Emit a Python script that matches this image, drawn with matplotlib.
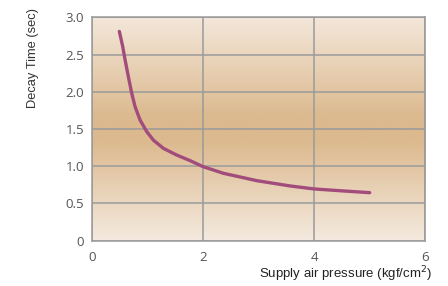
import numpy as np
import matplotlib
matplotlib.use("Agg")
import matplotlib.pyplot as plt
from matplotlib.colors import LinearSegmentedColormap

pressure = [0.497, 0.557, 0.60, 0.66, 0.72, 0.78, 0.87, 0.99, 1.11, 1.29, 1.53, 1.77,
            2.00, 2.37, 2.97, 3.57, 4.00, 4.53, 5.00]
decay = [2.81, 2.61, 2.43, 2.20, 1.98, 1.80, 1.62, 1.465, 1.35, 1.24, 1.15, 1.075,
         0.995, 0.905, 0.806, 0.735, 0.695, 0.668, 0.645]
xticks = [0, 2, 4, 6]
yticks = [0, 0.5, 1.0, 1.5, 2.0, 2.5, 3.0]
ytick_labels = ["0", "0.5", "1.0", "1.5", "2.0", "2.5", "3.0"]

fig = plt.figure(figsize=(4.48, 2.86), dpi=100)
W, H = 448, 286
ax = fig.add_axes([91.7 / W, 1 - 240.7 / H, (425.3 - 91.7) / W, (240.7 - 17.3) / H])

cmap = LinearSegmentedColormap.from_list(
    "bg", [(0.0, "#f4eadf"), (0.45, "#dcb98e"), (0.55, "#dcb98e"), (1.0, "#f3e7da")])
grad = np.linspace(0, 1, 256).reshape(-1, 1)
ax.imshow(grad, extent=[0, 6, 0, 3], aspect="auto", cmap=cmap, zorder=0, origin="lower")

ax.set_xlim(0, 6)
ax.set_ylim(0, 3)
ax.set_xticks(xticks)
ax.set_yticks(yticks)
ax.set_yticklabels(ytick_labels)
ax.grid(True, color="#9a9a9a", linewidth=1.1, zorder=1)
ax.set_axisbelow(False)
for s in ax.spines.values():
    s.set_color("#9a9a9a")
    s.set_linewidth(1.1)
ax.tick_params(length=0, colors="#555555", labelsize=9.5)
ax.tick_params(axis="y", pad=5.5)
ax.tick_params(axis="x", pad=7.5)
for lab in ax.get_xticklabels() + ax.get_yticklabels():
    lab.set_fontfamily("Open Sans")

ax.plot(pressure, decay, color="#a24c7c", linewidth=2.4, solid_capstyle="round",
        solid_joinstyle="round", zorder=3)

fig.text(33 / W, 1 - 58 / H, "Decay Time (sec)", rotation=90, ha="center", va="center",
         fontsize=9.3, color="#333333", family="Liberation Sans")
fig.text(432 / W, 1 - 274 / H, "Supply air pressure (kgf/cm$^2$)", ha="right", va="center",
         fontsize=9.5, color="#222222", family="Liberation Sans")

fig.savefig("out.png", dpi=100)
